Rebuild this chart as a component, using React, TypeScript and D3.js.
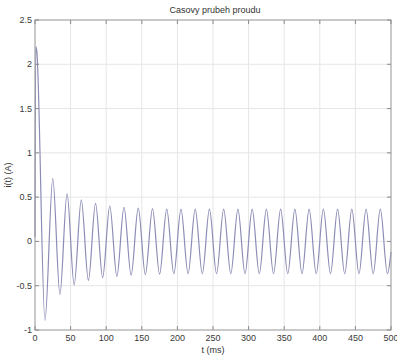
import * as d3 from 'd3';

// extrema of the current waveform (t in ms, i in A)
const times = [
  0, 1, 2.5, 14, 25, 35, 45, 55, 65, 75, 85, 95, 105, 115, 125, 135, 145, 155, 165, 175,
  185, 195, 205, 215, 225, 235, 245, 255, 265, 275, 285, 295, 305, 315, 325, 335,
  345, 355, 365, 375, 385, 395, 405, 415, 425, 435, 445, 455, 465, 475, 485, 495, 500,
];
const current = [
  0.05, 2.2, 2.15, -0.89, 0.71, -0.6, 0.54, -0.49, 0.47, -0.44, 0.43, -0.41, 0.4, -0.395, 0.385, -0.38, 0.375, -0.375, 0.37, -0.37,
  0.365, -0.365, 0.365, -0.365, 0.365, -0.365, 0.365, -0.365, 0.365, -0.365, 0.365, -0.365, 0.365, -0.365, 0.365, -0.365,
  0.365, -0.365, 0.365, -0.365, 0.365, -0.365, 0.365, -0.365, 0.365, -0.365, 0.365, -0.365, 0.365, -0.365, 0.365, -0.365, -0.12,
];

const xTicks = [0, 50, 100, 150, 200, 250, 300, 350, 400, 450, 500];
const yTicks = [-1, -0.5, 0, 0.5, 1, 1.5, 2, 2.5];

const title = 'Casovy prubeh proudu';
const xLabel = 't (ms)';
const yLabel = 'i(t) (A)';

export default function App() {
  const width = 397;
  const height = 355;
  const margin = { top: 20, right: 6, bottom: 25, left: 35 };
  const left = margin.left;
  const right = width - margin.right;
  const top = margin.top;
  const bottom = height - margin.bottom;

  const x = d3.scaleLinear().domain([0, 500]).range([left, right]);
  const y = d3.scaleLinear().domain([-1, 2.5]).range([bottom, top]);

  const points = times.map((t, i) => [t, current[i]] as [number, number]);
  const line = d3
    .line<[number, number]>()
    .x((d) => x(d[0]))
    .y((d) => y(d[1]))
    .curve(d3.curveMonotoneX);

  const font = '"Liberation Sans", Arial, sans-serif';
  const tickLen = 4;

  return (
    <svg
      width={width}
      height={height}
      style={{ position: 'absolute', left: 0, top: 0, background: '#fff' }}
      fontFamily={font}
    >
      {/* grid */}
      {xTicks.map((t) => (
        <line key={'gx' + t} x1={x(t)} x2={x(t)} y1={top} y2={bottom} stroke="#e6e6e6" />
      ))}
      {yTicks.map((t) => (
        <line key={'gy' + t} x1={left} x2={right} y1={y(t)} y2={y(t)} stroke="#e6e6e6" />
      ))}

      {/* signal */}
      <path d={line(points) || ''} fill="none" stroke="#8c8cb6" strokeWidth={1.2} />

      {/* box */}
      <rect x={left} y={top} width={right - left} height={bottom - top} fill="none" stroke="#a0a0a0" />

      {/* inward ticks */}
      {xTicks.map((t) => (
        <g key={'tx' + t} stroke="#8a8a8a">
          <line x1={x(t)} x2={x(t)} y1={bottom} y2={bottom - tickLen} />
          <line x1={x(t)} x2={x(t)} y1={top} y2={top + tickLen} />
        </g>
      ))}
      {yTicks.map((t) => (
        <g key={'ty' + t} stroke="#8a8a8a">
          <line x1={left} x2={left + tickLen} y1={y(t)} y2={y(t)} />
          <line x1={right} x2={right - tickLen} y1={y(t)} y2={y(t)} />
        </g>
      ))}

      {/* tick labels */}
      {xTicks.map((t) => (
        <text key={'lx' + t} x={x(t)} y={bottom + 11} textAnchor="middle" fontSize={9} fill="#3a3a3a">
          {t}
        </text>
      ))}
      {yTicks.map((t) => (
        <text key={'ly' + t} x={left - 3} y={y(t) + 3} textAnchor="end" fontSize={9} fill="#3a3a3a">
          {t}
        </text>
      ))}

      <text x={(left + right) / 2 + 2} y={13} textAnchor="middle" fontSize={9} fill="#333">
        {title}
      </text>
      <text x={(left + right) / 2} y={bottom + 23} textAnchor="middle" fontSize={9} fill="#333">
        {xLabel}
      </text>
      <text
        transform={`translate(11,${(top + bottom) / 2}) rotate(-90)`}
        textAnchor="middle"
        fontSize={9}
        fill="#333"
      >
        {yLabel}
      </text>
    </svg>
  );
}
